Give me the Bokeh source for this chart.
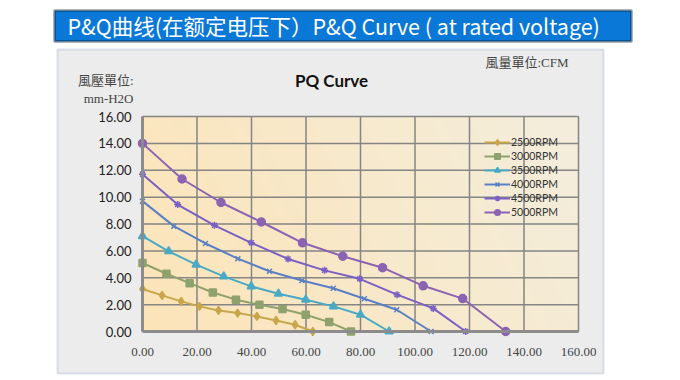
import numpy as np
from bokeh.plotting import figure
from bokeh.models import (BoxAnnotation, Label, Legend, LegendItem, NumeralTickFormatter,
                          FixedTicker, Range1d, LinearAxis)
from bokeh.embed import file_html
from bokeh.resources import INLINE

# ---- data (flow CFM, pressure mm-H2O) ----
series_names = ["2500RPM", "3000RPM", "3500RPM", "4000RPM", "4500RPM", "5000RPM"]
q2500 = [0, 7.2, 14.2, 20.9, 27.9, 34.9, 42.0, 49.0, 56.0, 62.5]
p2500 = [3.16, 2.69, 2.24, 1.87, 1.57, 1.37, 1.12, 0.82, 0.50, 0.0]
q3000 = [0, 8.8, 17.3, 25.8, 34.3, 42.9, 51.4, 59.9, 68.5, 76.5]
p3000 = [5.1, 4.3, 3.6, 2.9, 2.37, 1.99, 1.67, 1.25, 0.70, 0.0]
q3500 = [0, 9.6, 19.7, 29.8, 39.9, 49.9, 59.9, 70.1, 80.0, 90.5]
p3500 = [7.1, 5.97, 4.98, 4.1, 3.36, 2.81, 2.37, 1.87, 1.25, 0.0]
q4000 = [0, 11.5, 23.1, 35.0, 46.6, 58.5, 70.0, 81.4, 93.3, 105.9]
p4000 = [9.7, 7.84, 6.55, 5.42, 4.48, 3.8, 3.22, 2.44, 1.62, 0.0]
q4500 = [0, 12.9, 26.4, 39.9, 53.4, 66.8, 79.7, 93.4, 106.7, 118.6]
p4500 = [11.7, 9.45, 7.9, 6.6, 5.4, 4.55, 3.92, 2.74, 1.72, 0.0]
q5000 = [0, 14.5, 28.8, 43.6, 58.7, 73.5, 88.1, 103.0, 117.5, 133.3]
p5000 = [14.0, 11.35, 9.6, 8.15, 6.6, 5.6, 4.75, 3.4, 2.45, 0.0]

x_ticks = [0, 20, 40, 60, 80, 100, 120, 140, 160]
y_ticks = [0, 2, 4, 6, 8, 10, 12, 14, 16]

colors = ["#c8a64a", "#8fa16c", "#4aa9c4", "#5a7fc6", "#7a5fc4", "#8c63b3"]
markers = ["diamond", "square", "triangle", "x", "asterisk", "circle"]
sizes = [8, 7, 8, 7, 7, 8]
qs = [q2500, q3000, q3500, q4000, q4500, q5000]
ps = [p2500, p3000, p3500, p4000, p4500, p5000]

W, H = 680, 380
# plot-area placement on the canvas (pixels)
PL, PR, PT, PB = 142, 578, 116, 331
xpx = (PR - PL) / (x_ticks[-1] - x_ticks[0])
ypx = (PB - PT) / (y_ticks[-1] - y_ticks[0])
x_range = Range1d(x_ticks[0] - PL / xpx, x_ticks[-1] + (W - PR) / xpx)
y_range = Range1d(y_ticks[0] - (H - PB) / ypx, y_ticks[-1] + PT / ypx)

p = figure(width=W, height=H, output_backend="svg", toolbar_location=None,
           x_range=x_range, y_range=y_range,
           x_axis_location=None, y_axis_location=None,
           min_border=0, min_border_left=0, min_border_right=0,
           min_border_top=0, min_border_bottom=0)
p.border_fill_color = "white"
p.background_fill_color = "white"
p.outline_line_color = None
for g in list(p.grid):
    g.visible = False


def sy(y):
    return H - y


# grey panel
p.add_layout(BoxAnnotation(left=57, right=603, top=sy(49), bottom=sy(373),
                           left_units="screen", right_units="screen",
                           top_units="screen", bottom_units="screen",
                           fill_color="#ececec", fill_alpha=1,
                           line_color="#93a5c2", line_width=2, level="image"))
# title bar
p.add_layout(BoxAnnotation(left=54, right=631, top=sy(10), bottom=sy(41),
                           left_units="screen", right_units="screen",
                           top_units="screen", bottom_units="screen",
                           fill_color="#0a78d7", fill_alpha=1, line_color="black", line_width=3,
                           level="image"))
p.add_layout(Label(x=67, y=sy(25), x_units="screen", y_units="screen",
                   text="P&Q曲线(在额定电压下）P&Q Curve ( at rated voltage)",
                   text_font="Noto Sans CJK SC", text_font_size="21.5px", text_color="white",
                   text_baseline="middle", text_align="left"))

# texts inside panel
serif_cjk = "'Liberation Serif', 'Noto Sans CJK TC'"
p.add_layout(Label(x=331, y=sy(80), x_units="screen", y_units="screen", text="PQ Curve",
                   text_font="Lato", text_font_style="bold", text_font_size="17px",
                   text_color="#111111", text_align="center", text_baseline="middle"))
p.add_layout(Label(x=133, y=sy(80), x_units="screen", y_units="screen", text="風壓單位:",
                   text_font=serif_cjk, text_font_size="13px",
                   text_color="#444444", text_align="right", text_baseline="middle"))
p.add_layout(Label(x=133, y=sy(98), x_units="screen", y_units="screen", text="mm-H2O",
                   text_font=serif_cjk, text_font_size="13px",
                   text_color="#444444", text_align="right", text_baseline="middle"))
p.add_layout(Label(x=568, y=sy(62), x_units="screen", y_units="screen", text="風量單位:CFM",
                   text_font=serif_cjk, text_font_size="13px",
                   text_color="#444444", text_align="right", text_baseline="middle"))

# plot-area gradient background (peach on the left, pale cream on the right)
gx = np.linspace(0, 1, 120)[None, :]
gy = np.linspace(0, 1, 60)[:, None]
t = np.clip(0.8 * gx + 0.2 * gy, 0, 1)
c0 = np.array([252, 228, 184])
c1 = np.array([244, 238, 221])
rgb = (c0[None, None, :] * (1 - t[..., None]) + c1[None, None, :] * t[..., None]).astype(np.uint32)
img = (255 << 24) | (rgb[..., 2] << 16) | (rgb[..., 1] << 8) | rgb[..., 0]
p.image_rgba(image=[img.astype(np.uint32)], x=x_ticks[0], y=y_ticks[0],
             dw=x_ticks[-1] - x_ticks[0], dh=y_ticks[-1] - y_ticks[0], level="underlay")

# grid lines limited to the plot area
nx, ny = len(x_ticks), len(y_ticks)
p.segment(x0=x_ticks, y0=[y_ticks[0]] * nx, x1=x_ticks, y1=[y_ticks[-1]] * nx,
          line_color="#858585", line_width=1.5, level="underlay")
p.segment(x0=[x_ticks[0]] * ny, y0=y_ticks, x1=[x_ticks[-1]] * ny, y1=y_ticks,
          line_color="#858585", line_width=1.5, level="underlay")

# axes pinned to the plot area
xaxis = LinearAxis(fixed_location=y_ticks[0], bounds=(x_ticks[0], x_ticks[-1]),
                   ticker=FixedTicker(ticks=x_ticks), formatter=NumeralTickFormatter(format="0.00"))
yaxis = LinearAxis(fixed_location=x_ticks[0], bounds=(y_ticks[0], y_ticks[-1]),
                   ticker=FixedTicker(ticks=y_ticks), formatter=NumeralTickFormatter(format="0.00"))
for ax in (xaxis, yaxis):
    ax.axis_line_color = "#8c8c8c"
    ax.axis_line_width = 3
    ax.major_tick_line_color = None
    ax.minor_tick_line_color = None
    ax.major_label_text_font_size = "13px"
xaxis.major_label_standoff = 10
yaxis.major_label_standoff = 5
xaxis.major_label_text_font = "Liberation Serif"
xaxis.major_label_text_color = "#444444"
yaxis.major_label_text_font = "Lato"
yaxis.major_label_text_color = "#222222"
p.add_layout(xaxis, "below")
p.add_layout(yaxis, "left")

items = []
for name, q, pr, c, m, s in zip(series_names, qs, ps, colors, markers, sizes):
    ln = p.line(q, pr, line_color=c, line_width=2)
    sc = p.scatter(q, pr, marker=m, size=s, fill_color=c, line_color=c, line_width=1.5)
    items.append(LegendItem(label=name, renderers=[ln, sc]))

legend = Legend(items=items, location=(484, H - 219), padding=0, margin=0, spacing=0,
                glyph_width=26, glyph_height=14, label_height=14, label_standoff=1,
                label_text_font="Lato", label_text_font_size="10.5px", label_text_color="#333333",
                background_fill_alpha=0, border_line_color=None)
p.add_layout(legend)

open("out.html", "w").write(file_html(p, INLINE))
